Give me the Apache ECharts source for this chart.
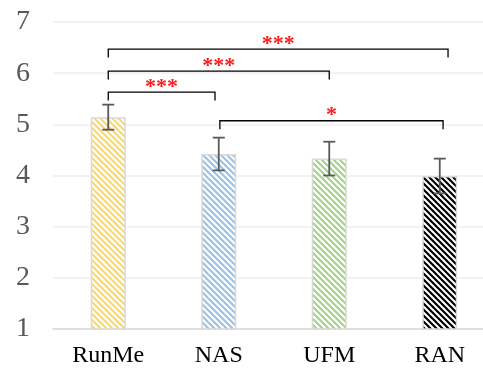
<!DOCTYPE html>
<html>
<head>
<meta charset="utf-8">
<script src="https://cdn.jsdelivr.net/npm/echarts@6/dist/echarts.min.js"></script>
<style>
  html, body { margin: 0; padding: 0; background: #ffffff; overflow: hidden; width: 483px; height: 370px; }
  #chart { width: 495px; height: 370px; }
</style>
</head>
<body>
<div id="chart"></div>
<script>
// Mean scores per condition with standard error
const categories = ['RunMe', 'NAS', 'UFM', 'RAN'];
const means = [5.14, 4.42, 4.33, 3.99];
const errors = [0.245, 0.32, 0.33, 0.34];

// Value axis range
const yMin = 1;
const yMax = 7;
const yStep = 1;

// Significance brackets: start / end along the category axis, height, marker
const bracketFrom = [0, 0, 0, 1.01];
const bracketTo = [0.966, 2.0, 3.075, 3.03];
const bracketLevel = [5.63, 6.04, 6.47, 5.07];
const bracketMarks = ['***', '***', '***', '*'];

const hatchColors = ['#ffd966', '#9dc3e6', '#a9d18e', '#000000'];

// Diagonal "\" stripe tile used as bar fill
function hatch(color) {
  const s = 6;
  const c = document.createElement('canvas');
  c.width = s; c.height = s;
  const g = c.getContext('2d');
  g.fillStyle = '#ffffff';
  g.fillRect(0, 0, s, s);
  g.strokeStyle = color;
  g.lineWidth = 2.2;
  g.beginPath();
  g.moveTo(-s, -s); g.lineTo(2 * s, 2 * s);
  g.moveTo(-s, 0); g.lineTo(s, 2 * s);
  g.moveTo(0, -s); g.lineTo(2 * s, s);
  g.stroke();
  return { image: c, repeat: 'repeat' };
}

const barData = means.map((v, i) => ({
  value: v,
  itemStyle: { color: hatch(hatchColors[i]) }
}));

const errData = means.map((v, i) => [i, v - errors[i], v + errors[i]]);

const bracketData = bracketFrom.map((f, i) => [f, bracketTo[i], bracketLevel[i], i]);

const chart = echarts.init(document.getElementById('chart'), null, { renderer: 'canvas' });

chart.setOption({
  animation: false,
  backgroundColor: '#ffffff',
  grid: { left: 53, top: 22, right: 0, height: 307, containLabel: false },
  xAxis: {
    type: 'category',
    data: categories,
    axisLine: { show: true, lineStyle: { color: '#d9d9d9', width: 1.5 } },
    axisTick: { show: false },
    axisLabel: {
      color: '#000000',
      fontFamily: 'Liberation Serif',
      fontSize: 24,
      margin: 15
    }
  },
  yAxis: {
    type: 'value',
    min: yMin,
    max: yMax,
    interval: yStep,
    axisLine: { show: false },
    axisTick: { show: false },
    splitLine: { lineStyle: { color: '#eeeeee', width: 1.5 } },
    axisLabel: {
      color: '#595959',
      fontFamily: 'Liberation Serif',
      fontSize: 28,
      margin: 23
    }
  },
  series: [
    {
      type: 'bar',
      data: barData,
      barWidth: 35,
      itemStyle: { borderColor: '#d9d9d9', borderWidth: 1.5 },
      z: 2
    },
    {
      type: 'custom',
      data: errData,
      z: 5,
      renderItem: function (params, api) {
        const lo = api.coord([api.value(0), api.value(1)]);
        const hi = api.coord([api.value(0), api.value(2)]);
        const half = 6;
        const st = { stroke: '#595959', lineWidth: 1.8 };
        return {
          type: 'group',
          children: [
            { type: 'line', shape: { x1: hi[0], y1: hi[1], x2: lo[0], y2: lo[1] }, style: st },
            { type: 'line', shape: { x1: hi[0] - half, y1: hi[1], x2: hi[0] + half, y2: hi[1] }, style: st },
            { type: 'line', shape: { x1: lo[0] - half, y1: lo[1], x2: lo[0] + half, y2: lo[1] }, style: st }
          ]
        };
      }
    },
    {
      type: 'custom',
      data: bracketData,
      z: 6,
      renderItem: function (params, api) {
        const band = api.size([1, 0])[0];
        const c0 = api.coord([0, api.value(2)]);
        const x1 = c0[0] + api.value(0) * band;
        const x2 = c0[0] + api.value(1) * band;
        const y = c0[1];
        const leg = 8.5;
        const st = { stroke: '#000000', lineWidth: 1.3, fill: null };
        return {
          type: 'group',
          children: [
            {
              type: 'polyline',
              shape: { points: [[x1, y + leg], [x1, y], [x2, y], [x2, y + leg]] },
              style: st
            },
            {
              type: 'text',
              x: (x1 + x2) / 2,
              y: y - 16,
              style: {
                text: bracketMarks[api.value(3)],
                fill: '#ff1a1a',
                font: 'bold 22px "Liberation Serif"',
                align: 'center',
                verticalAlign: 'top'
              }
            }
          ]
        };
      }
    }
  ]
});
</script>
</body>
</html>
